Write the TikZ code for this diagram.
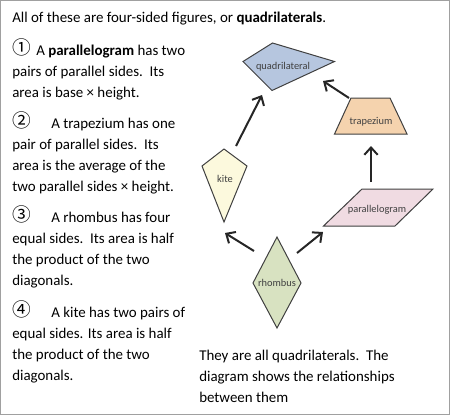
\documentclass[tikz,border=0pt]{standalone}
\usepackage{fontspec}
\setmainfont{Carlito}
\newfontfamily\circf{Noto Sans CJK JP}
\usetikzlibrary{arrows.meta}
\definecolor{quadc}{RGB}{182,198,223}
\definecolor{trapc}{RGB}{245,211,174}
\definecolor{parac}{RGB}{240,219,226}
\definecolor{kitec}{RGB}{252,249,221}
\definecolor{rhomc}{RGB}{216,226,193}
\definecolor{edgec}{RGB}{64,64,64}
\definecolor{labc}{RGB}{64,64,64}
\definecolor{framec}{RGB}{160,160,160}
\newcommand{\cnum}[2]{\makebox[#1][l]{\smash{\circf\fontsize{14pt}{15pt}\selectfont\raisebox{0.3pt}{#2}}}}
\tikzset{
  para/.style={anchor=base west, inner sep=0pt, align=left, font=\fontsize{11.2pt}{15.75pt}\selectfont},
  shapebox/.style={draw=edgec, line width=0.75pt, line join=miter},
  lab/.style={inner sep=0pt, text=labc, font=\fontsize{7.8pt}{9pt}\selectfont},
  arr/.style={draw={rgb,255:red,38;green,38;blue,38}, line width=1.5pt, -{Straight Barb[length=5.5pt,width=10pt,line width=1.5pt]}}
}
\begin{document}
\begin{tikzpicture}[x=0.75pt,y=-0.75pt]
\useasboundingbox (0,0) rectangle (450,415);
\draw[framec, line width=1.1pt] (0.7,0.7) rectangle (449.3,414.3);

% texts (base anchor = baseline of the last line)
\node[para] (intro) at (12,22.5) {All of these are four-sided figures, or \textbf{quadrilaterals}.};
\node[para] (p1) at (12,97) {\cnum{18pt}{①}A \textbf{parallelogram} has two\\pairs of parallel sides.\ \ Its\\area is base × height.};
\node[para] (p2) at (12,191) {\cnum{29.25pt}{②}A trapezium has one\\pair of parallel sides.\ \ Its\\area is the average of the\\two parallel sides × height.};
\node[para] (p3) at (12,285) {\cnum{29.25pt}{③}A rhombus has four\\equal sides.\ \ Its area is half\\the product of the two\\diagonals.};
\node[para] (p4) at (12,380) {\cnum{29.25pt}{④}A kite has two pairs of\\equal sides. Its area is half\\the product of the two\\diagonals.};
\node[para] (p5) at (199,402) {They are all quadrilaterals.\ \ The\\diagram shows the relationships\\between them};

% shapes
\draw[shapebox, fill=quadc] (243,61.5) -- (272.5,43) -- (334.5,61.5) -- (272,90.5) -- cycle;
\draw[shapebox, fill=trapc] (351,98) -- (390,98) -- (407,134) -- (334.5,134) -- cycle;
\draw[shapebox, fill=parac] (362,189) -- (433,189) -- (395,226) -- (323.5,226) -- cycle;
\draw[shapebox, fill=kitec] (224,149) -- (247,166) -- (224,222) -- (202,166) -- cycle;
\draw[shapebox, fill=rhomc] (277,237) -- (301,283) -- (277,328) -- (253,283) -- cycle;

\node[lab] (lquad) at (283,66.5) {quadrilateral};
\node[lab] (ltrap) at (371,121.5) {trapezium};
\node[lab] (lpara) at (377,209.5) {parallelogram};
\node[lab] (lkite) at (225,178.5) {kite};
\node[lab] (lrhom) at (277,282.5) {rhombus};

% connector ends
\coordinate (kiteout) at (236,146);
\coordinate (quadinA) at (262,95);
\coordinate (trapout) at (349,98);
\coordinate (quadinB) at (323,81);
\coordinate (paraout) at (371,182);
\coordinate (trapin) at (371,146);
\coordinate (rhomoutA) at (254,251);
\coordinate (kitein) at (225,233);
\coordinate (rhomoutB) at (297,253);
\coordinate (parain) at (323,232);

\draw[arr] (kiteout) -- (quadinA);
\draw[arr] (trapout) -- (quadinB);
\draw[arr] (paraout) -- (trapin);
\draw[arr] (rhomoutA) -- (kitein);
\draw[arr] (rhomoutB) -- (parain);
\end{tikzpicture}
\end{document}
